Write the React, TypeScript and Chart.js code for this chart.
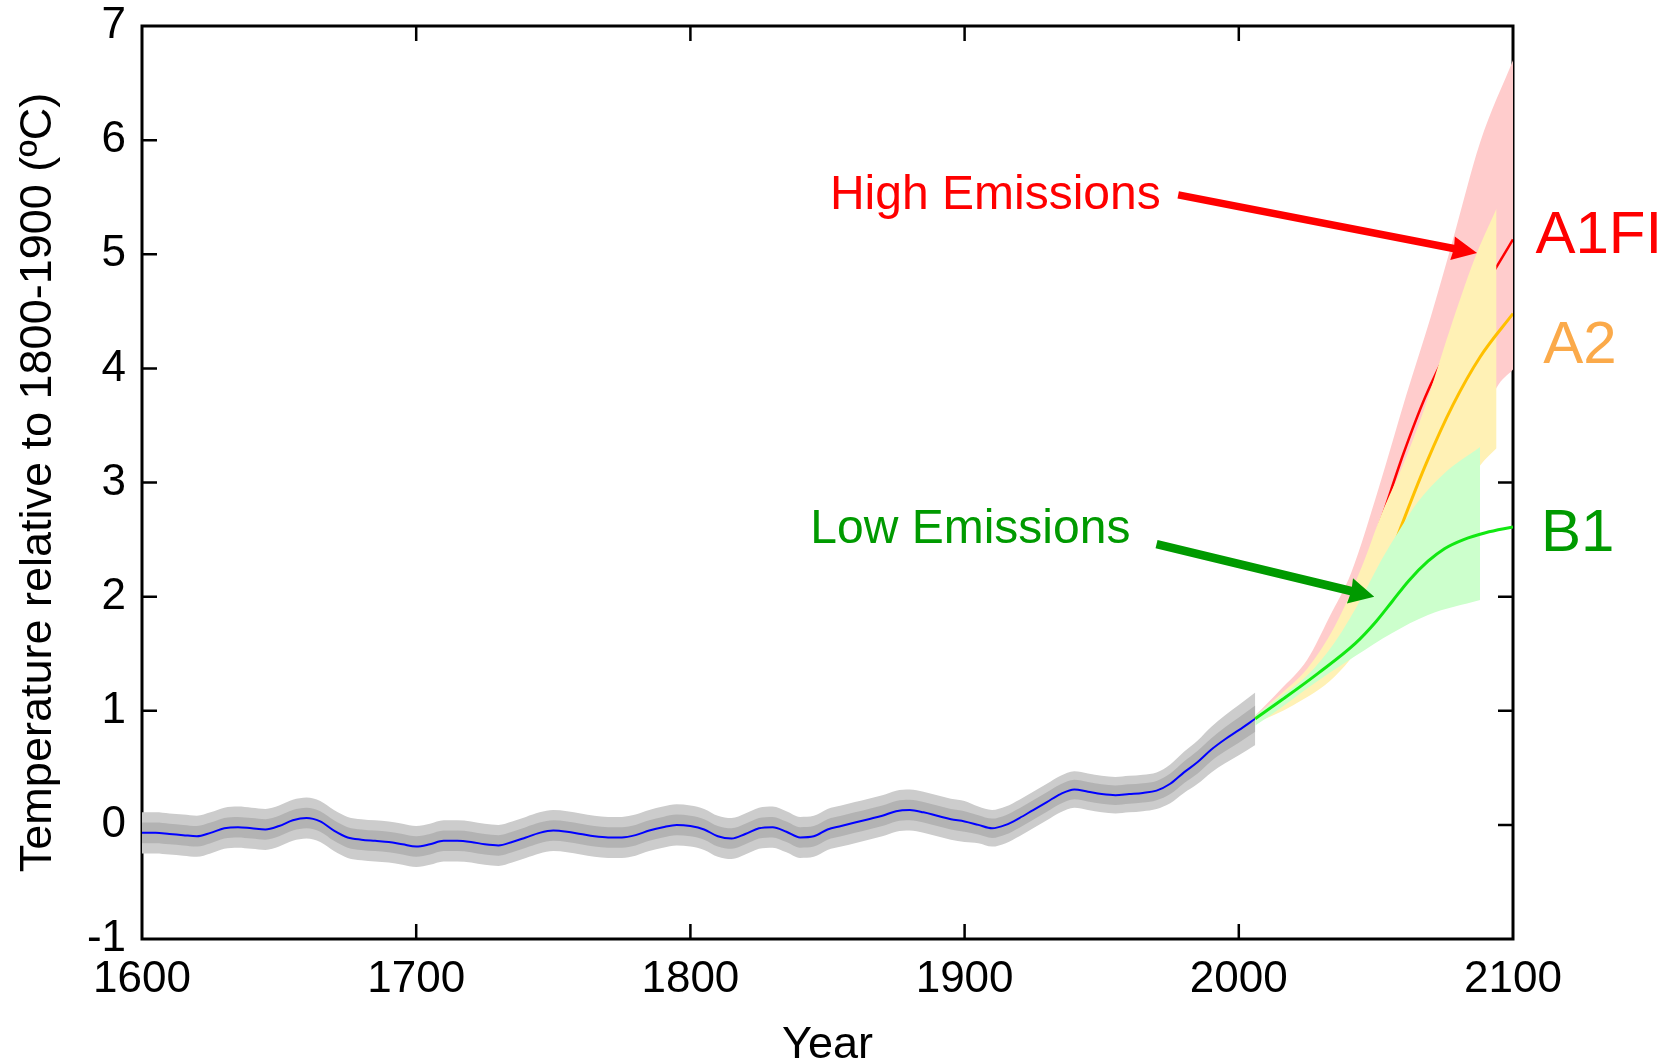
import React, { useEffect, useRef } from 'react';
import { Chart, registerables } from 'chart.js';

Chart.register(...registerables);

// ---------- Historical reconstruction (1600-2006) ----------
const histYears = [
  1600, 1605, 1610, 1615, 1620, 1625, 1630, 1635, 1640, 1645, 1650, 1655, 1660, 1665, 1670, 1675, 1680, 1685, 1690, 1695,
  1700, 1705, 1710, 1715, 1720, 1725, 1730, 1735, 1740, 1745, 1750, 1755, 1760, 1765, 1770, 1775, 1780, 1785, 1790, 1795,
  1800, 1805, 1810, 1815, 1820, 1825, 1830, 1835, 1840, 1845, 1850, 1855, 1860, 1865, 1870, 1875, 1880, 1885, 1890, 1895,
  1900, 1905, 1910, 1915, 1920, 1925, 1930, 1935, 1940, 1945, 1950, 1955, 1960, 1965, 1970, 1975, 1980, 1985, 1990, 1995,
  2000, 2006,
];
const histTemp = [
  -0.07, -0.07, -0.08, -0.09, -0.10, -0.07, -0.03, -0.02, -0.03, -0.04, -0.01, 0.04, 0.06, 0.03, -0.05, -0.11, -0.13, -0.14, -0.15, -0.17,
  -0.19, -0.17, -0.14, -0.14, -0.15, -0.17, -0.18, -0.15, -0.11, -0.07, -0.05, -0.06, -0.08, -0.10, -0.11, -0.11, -0.09, -0.05, -0.02, 0.00,
  -0.01, -0.04, -0.10, -0.12, -0.08, -0.03, -0.02, -0.06, -0.11, -0.10, -0.04, -0.01, 0.02, 0.05, 0.08, 0.12, 0.13, 0.11, 0.08, 0.05,
  0.03, 0.00, -0.03, 0.00, 0.06, 0.13, 0.20, 0.27, 0.31, 0.29, 0.27, 0.26, 0.27, 0.28, 0.30, 0.36, 0.46, 0.55, 0.66, 0.75,
  0.83, 0.93,
];
// half-widths of the outer (light) and inner (dark) uncertainty bands
const histOuterHalf = [
  0.18, 0.18, 0.18, 0.18, 0.18, 0.18, 0.18, 0.18, 0.18, 0.18, 0.18, 0.18, 0.18, 0.18, 0.18, 0.18, 0.18, 0.18, 0.18, 0.18,
  0.18, 0.18, 0.18, 0.18, 0.18, 0.18, 0.18, 0.18, 0.18, 0.18, 0.18, 0.18, 0.18, 0.18, 0.18, 0.18, 0.18, 0.18, 0.18, 0.18,
  0.18, 0.18, 0.18, 0.18, 0.18, 0.18, 0.18, 0.18, 0.18, 0.18, 0.18, 0.18, 0.18, 0.18, 0.18, 0.18, 0.18, 0.18, 0.18, 0.18,
  0.18, 0.16, 0.16, 0.16, 0.16, 0.16, 0.16, 0.16, 0.16, 0.16, 0.16, 0.16, 0.16, 0.16, 0.16, 0.17, 0.18, 0.19, 0.20, 0.21,
  0.22, 0.23,
];
const histInnerHalf = [
  0.09, 0.09, 0.09, 0.09, 0.09, 0.09, 0.09, 0.09, 0.09, 0.09, 0.09, 0.09, 0.09, 0.09, 0.09, 0.09, 0.09, 0.09, 0.09, 0.09,
  0.09, 0.09, 0.09, 0.09, 0.09, 0.09, 0.09, 0.09, 0.09, 0.09, 0.09, 0.09, 0.09, 0.09, 0.09, 0.09, 0.09, 0.09, 0.09, 0.09,
  0.09, 0.09, 0.09, 0.09, 0.09, 0.09, 0.09, 0.09, 0.09, 0.09, 0.09, 0.09, 0.09, 0.09, 0.09, 0.09, 0.09, 0.09, 0.09, 0.09,
  0.09, 0.085, 0.085, 0.085, 0.085, 0.085, 0.085, 0.085, 0.085, 0.085, 0.085, 0.085, 0.085, 0.085, 0.085, 0.09, 0.095, 0.10, 0.10, 0.105,
  0.11, 0.115,
];

// ---------- A1FI (high emissions) ----------
const a1fiUpperYears = [2006, 2015, 2025, 2033, 2041, 2051, 2061, 2070, 2078, 2088, 2100];
const a1fiUpper = [0.96, 1.18, 1.45, 1.82, 2.21, 2.95, 3.76, 4.45, 5.12, 5.98, 6.70];
const a1fiLowerYears = [2006, 2020, 2040, 2060, 2080, 2094, 2100];
const a1fiLower = [0.90, 1.10, 1.55, 2.20, 3.00, 3.83, 3.99];
const a1fiYears = [2006, 2015, 2025, 2035, 2045, 2052, 2060, 2068, 2077, 2086, 2094, 2100];
const a1fiMean = [0.93, 1.10, 1.32, 1.68, 2.20, 2.68, 3.25, 3.75, 4.20, 4.58, 4.89, 5.13];

// ---------- A2 ----------
const a2UpperYears = [2006, 2015, 2025, 2035, 2045, 2052, 2060, 2068, 2077, 2086, 2094];
const a2Upper = [0.95, 1.14, 1.37, 1.74, 2.27, 2.72, 3.16, 3.67, 4.34, 4.96, 5.40];
const a2LowerYears = [2006, 2020, 2035, 2050, 2070, 2088, 2094];
const a2Lower = [0.89, 1.05, 1.30, 1.75, 2.50, 3.15, 3.30];
const a2Years = [2006, 2015, 2025, 2035, 2045, 2052, 2059, 2068.4, 2078.1, 2088, 2100];
const a2Mean = [0.93, 1.07, 1.24, 1.48, 1.82, 2.14, 2.60, 3.17, 3.68, 4.10, 4.48];

// ---------- B1 (low emissions) ----------
const b1UpperYears = [2006, 2015, 2025, 2035, 2045, 2052, 2058, 2065, 2075, 2088];
const b1Upper = [0.96, 1.12, 1.31, 1.60, 2.00, 2.32, 2.56, 2.82, 3.08, 3.31];
const b1LowerYears = [2006, 2015, 2024, 2033, 2042.5, 2055.8, 2069, 2088];
const b1Lower = [0.87, 1.02, 1.18, 1.33, 1.48, 1.68, 1.84, 1.97];
const b1Years = [2006, 2016, 2029, 2042.5, 2050, 2056, 2062, 2069, 2075, 2082, 2090, 2100];
const b1Mean = [0.93, 1.10, 1.33, 1.59, 1.78, 1.96, 2.14, 2.31, 2.42, 2.50, 2.56, 2.61];

// ---------- Axes / text ----------
const xMin = 1600;
const xMax = 2100;
const xStep = 100;
const yMin = -1;
const yMax = 7;
const yStep = 1;
const xTitle = 'Year';
const yTitle = 'Temperature relative to 1800-1900 (ºC)';

// annotation anchors in data coordinates [year, value]
const highLabel = { text: 'High Emissions', at: [1911.2, 5.40] };
const lowLabel = { text: 'Low Emissions', at: [1902.1, 2.47] };
const highArrow = { from: [1977.9, 5.52], to: [2086.9, 5.01] };
const lowArrow = { from: [1970.0, 2.46], to: [2049.4, 2.00] };
const scenarioLabels = [
  { text: 'A1FI', at: [2108.2, 5.01], color: '#FF0000' },
  { text: 'A2', at: [2111.0, 4.05], color: '#FBAA4A' },
  { text: 'B1', at: [2110.2, 2.40], color: '#009A00' },
];

const FONT = "'Liberation Sans', Arial, Helvetica, sans-serif";

const pts = (xs: number[], ys: number[]) => xs.map((x, i) => ({ x, y: ys[i] }));

function band(upper: { x: number; y: number }[], lower: { x: number; y: number }[], color: string, order: number) {
  return [
    {
      data: upper,
      borderColor: 'rgba(0,0,0,0)',
      borderWidth: 0,
      backgroundColor: color,
      fill: '+1',
      order,
      cubicInterpolationMode: 'monotone',
    },
    {
      data: lower,
      borderColor: 'rgba(0,0,0,0)',
      borderWidth: 0,
      backgroundColor: color,
      fill: false,
      order,
      cubicInterpolationMode: 'monotone',
    },
  ];
}

function line(data: { x: number; y: number }[], color: string, width: number, order: number) {
  return {
    data,
    borderColor: color,
    borderWidth: width,
    backgroundColor: color,
    fill: false,
    order,
    cubicInterpolationMode: 'monotone',
    borderCapStyle: 'butt',
  };
}

function drawArrow(ctx: CanvasRenderingContext2D, x1: number, y1: number, x2: number, y2: number, shaft: number, headLen: number, headHalf: number, color: string) {
  const dx = x2 - x1;
  const dy = y2 - y1;
  const len = Math.hypot(dx, dy);
  const ux = dx / len;
  const uy = dy / len;
  const px = -uy;
  const py = ux;
  const bx = x2 - ux * headLen;
  const by = y2 - uy * headLen;
  ctx.save();
  ctx.fillStyle = color;
  ctx.beginPath();
  ctx.moveTo(x1 + px * shaft / 2, y1 + py * shaft / 2);
  ctx.lineTo(bx + px * shaft / 2 + ux, by + py * shaft / 2 + uy);
  ctx.lineTo(bx + px * headHalf, by + py * headHalf);
  ctx.lineTo(x2, y2);
  ctx.lineTo(bx - px * headHalf, by - py * headHalf);
  ctx.lineTo(bx - px * shaft / 2 + ux, by - py * shaft / 2 + uy);
  ctx.lineTo(x1 - px * shaft / 2, y1 - py * shaft / 2);
  ctx.closePath();
  ctx.fill();
  ctx.restore();
}

const overlayPlugin = {
  id: 'overlay',
  beforeDatasetsDraw(chart: any) {
    const { ctx, chartArea, scales } = chart;
    const { left, right, top, bottom } = chartArea;
    ctx.save();
    ctx.strokeStyle = '#000';
    ctx.lineWidth = 3;
    ctx.strokeRect(left, top, right - left, bottom - top);
    ctx.lineWidth = 2.5;
    const tickLen = 15;
    scales.x.ticks.forEach((t: any) => {
      if (t.value <= xMin || t.value >= xMax) return;
      const px = scales.x.getPixelForValue(t.value);
      ctx.beginPath();
      ctx.moveTo(px, bottom);
      ctx.lineTo(px, bottom - tickLen);
      ctx.moveTo(px, top);
      ctx.lineTo(px, top + tickLen);
      ctx.stroke();
    });
    scales.y.ticks.forEach((t: any) => {
      if (t.value <= yMin || t.value >= yMax) return;
      const py = scales.y.getPixelForValue(t.value);
      ctx.beginPath();
      ctx.moveTo(left, py);
      ctx.lineTo(left + tickLen, py);
      ctx.moveTo(right, py);
      ctx.lineTo(right - tickLen, py);
      ctx.stroke();
    });
    ctx.restore();
  },
  afterDraw(chart: any) {
    const { ctx, chartArea, scales } = chart;
    const X = (v: number) => scales.x.getPixelForValue(v);
    const Y = (v: number) => scales.y.getPixelForValue(v);
    ctx.save();
    // axis titles
    ctx.fillStyle = '#000';
    ctx.textAlign = 'center';
    ctx.textBaseline = 'alphabetic';
    ctx.font = `45px ${FONT}`;
    ctx.fillText(xTitle, (chartArea.left + chartArea.right) / 2, chartArea.bottom + 119);
    ctx.save();
    ctx.translate(chartArea.left - 91, (chartArea.top + chartArea.bottom) / 2);
    ctx.rotate(-Math.PI / 2);
    ctx.fillText(yTitle, 0, 0);
    ctx.restore();

    // annotations
    ctx.font = `48px ${FONT}`;
    ctx.fillStyle = '#FF0000';
    ctx.fillText(highLabel.text, X(highLabel.at[0]), Y(highLabel.at[1]));
    ctx.fillStyle = '#009A00';
    ctx.fillText(lowLabel.text, X(lowLabel.at[0]), Y(lowLabel.at[1]));

    drawArrow(ctx, X(highArrow.from[0]), Y(highArrow.from[1]), X(highArrow.to[0]), Y(highArrow.to[1]), 7.5, 25, 12, '#FF0000');
    drawArrow(ctx, X(lowArrow.from[0]), Y(lowArrow.from[1]), X(lowArrow.to[0]), Y(lowArrow.to[1]), 8.5, 25, 13, '#009A00');

    ctx.textAlign = 'left';
    ctx.font = `60px ${FONT}`;
    scenarioLabels.forEach((s) => {
      ctx.fillStyle = s.color;
      ctx.fillText(s.text, X(s.at[0]), Y(s.at[1]));
    });
    ctx.restore();
  },
};

const zeroPadding = (s: any) => {
  s.paddingTop = 0;
  s.paddingBottom = 0;
  s.paddingLeft = 0;
  s.paddingRight = 0;
};

export default function App() {
  const canvasRef = useRef<HTMLCanvasElement | null>(null);

  useEffect(() => {
    const canvas = canvasRef.current;
    if (!canvas) return;

    const histLine = pts(histYears, histTemp);
    const outerUp = histYears.map((x, i) => ({ x, y: histTemp[i] + histOuterHalf[i] }));
    const outerLo = histYears.map((x, i) => ({ x, y: histTemp[i] - histOuterHalf[i] }));
    const innerUp = histYears.map((x, i) => ({ x, y: histTemp[i] + histInnerHalf[i] }));
    const innerLo = histYears.map((x, i) => ({ x, y: histTemp[i] - histInnerHalf[i] }));

    const datasets: any[] = [
      ...band(outerUp, outerLo, '#CCCCCC', 100),
      ...band(innerUp, innerLo, '#B3B3B3', 99),
      line(histLine, '#0000FF', 2, 98),
      ...band(pts(a1fiUpperYears, a1fiUpper), pts(a1fiLowerYears, a1fiLower), '#FFCCCC', 90),
      line(pts(a1fiYears, a1fiMean), '#FF0000', 2.5, 89),
      ...band(pts(a2UpperYears, a2Upper), pts(a2LowerYears, a2Lower), '#FFF1B5', 80),
      line(pts(a2Years, a2Mean), '#FFC000', 3, 79),
      ...band(pts(b1UpperYears, b1Upper), pts(b1LowerYears, b1Lower), '#CCFFCC', 70),
      line(pts(b1Years, b1Mean), '#11E811', 3, 69),
    ];

    const tickFont = { family: FONT, size: 44 };

    const chart = new Chart(canvas, {
      type: 'line',
      data: { datasets },
      options: {
        responsive: false,
        animation: false,
        devicePixelRatio: 1,
        layout: { padding: { left: 0, top: 26, right: 159, bottom: 0 }, autoPadding: false },
        plugins: {
          legend: { display: false },
          tooltip: { enabled: false },
          filler: { propagate: false },
        },
        elements: { point: { radius: 0, hoverRadius: 0 } },
        scales: {
          x: {
            type: 'linear',
            min: xMin,
            max: xMax,
            ticks: {
              stepSize: xStep,
              font: tickFont,
              color: '#000',
              padding: 14,
              maxRotation: 0,
              autoSkip: false,
              callback: (v: any) => String(v),
            },
            grid: { display: false, drawTicks: false },
            border: { display: false },
            afterFit: (s: any) => {
              s.height = 123;
              zeroPadding(s);
            },
          },
          y: {
            type: 'linear',
            min: yMin,
            max: yMax,
            ticks: {
              stepSize: yStep,
              font: tickFont,
              color: '#000',
              padding: 16,
              autoSkip: false,
              callback: (v: any) => String(v),
            },
            grid: { display: false, drawTicks: false },
            border: { display: false },
            afterFit: (s: any) => {
              s.width = 142;
              zeroPadding(s);
            },
          },
        },
      } as any,
      plugins: [overlayPlugin],
    });

    return () => {
      chart.destroy();
    };
  }, []);

  return (
    <div style={{ position: 'fixed', left: 0, top: 0, width: 1672, height: 1062, background: '#fff' }}>
      <canvas ref={canvasRef} width={1672} height={1062} style={{ display: 'block', width: 1672, height: 1062 }} />
    </div>
  );
}
